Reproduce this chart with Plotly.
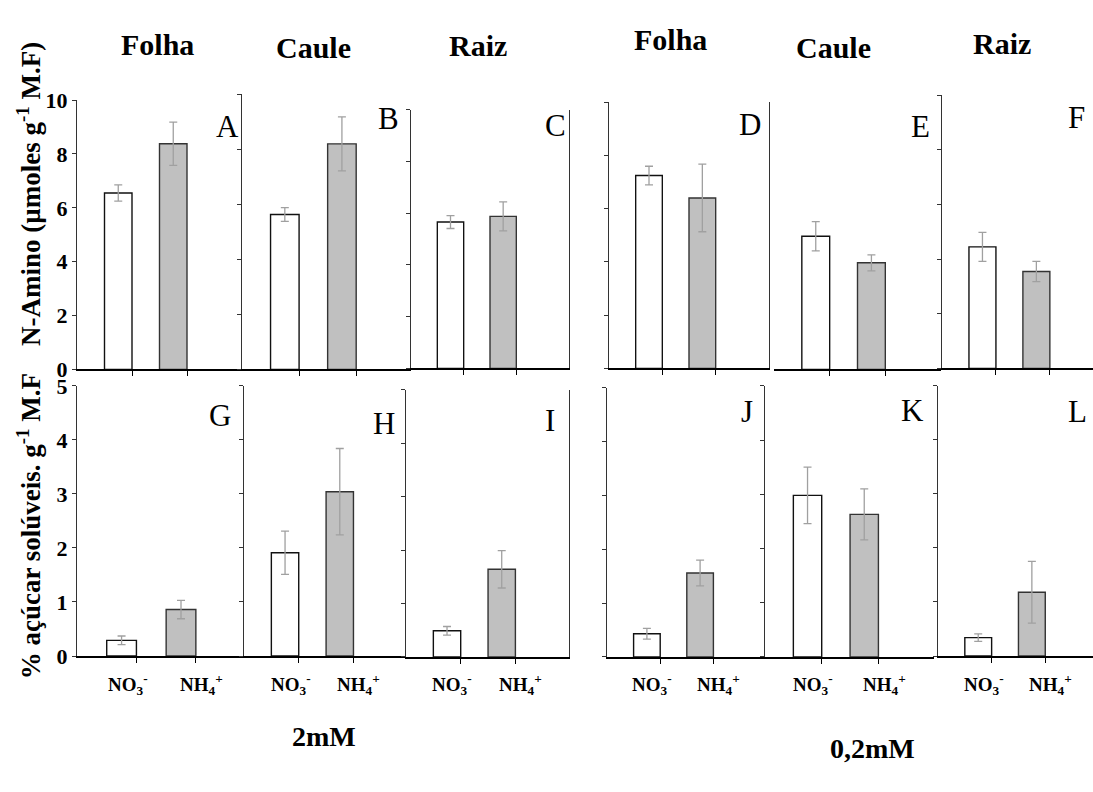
import plotly.graph_objects as go

W, H = 1093, 792

# ---------------- data ----------------
panel_ids = ["A", "B", "C", "D", "E", "F", "G", "H", "I", "J", "K", "L"]
categories = ["NO<sub>3</sub><sup>-</sup>", "NH<sub>4</sub><sup>+</sup>"]
organs = ["Folha", "Caule", "Raiz", "Folha", "Caule", "Raiz"]
concentrations = ["2mM", "0,2mM"]

# N-Amino (µmoles g-1 M.F) : panels A-F
amino_no3 = [6.55, 5.63, 5.66, 7.24, 5.00, 4.45]
amino_no3_err = [0.30, 0.25, 0.25, 0.35, 0.55, 0.53]
amino_nh4 = [8.38, 8.20, 5.88, 6.40, 4.00, 3.55]
amino_nh4_err = [0.80, 0.98, 0.56, 1.27, 0.30, 0.37]

# % açúcar solúveis g-1 M.F : panels G-L
sugar_no3 = [0.29, 1.91, 0.49, 0.43, 2.98, 0.34]
sugar_no3_err = [0.08, 0.40, 0.08, 0.10, 0.52, 0.07]
sugar_nh4 = [0.86, 3.04, 1.64, 1.56, 2.63, 1.18]
sugar_nh4_err = [0.17, 0.80, 0.35, 0.24, 0.47, 0.57]

amino_ticks = [0, 2, 4, 6, 8, 10]
sugar_ticks = [0, 1, 2, 3, 4, 5]

# ---------------- layout geometry (pixels) ----------------
# x0, x1, x-range max, y of range top, y of zero
geom = {
    "A": (77, 242, 3.00, 91, 369),
    "B": (242, 411, 2.96, 85, 369),
    "C": (411, 569, 3.00, 101, 368),
    "D": (609, 769, 3.00, 93, 368),
    "E": (774, 941, 3.00, 94, 369),
    "F": (942, 1093, 2.80, 86, 368),
    "G": (77, 244, 2.81, 386, 665),
    "H": (244, 406, 2.96, 386, 665),
    "I": (406, 569, 2.98, 390, 666),
    "J": (607, 765, 2.97, 388, 666),
    "K": (765, 934, 2.98, 386, 666),
    "L": (938, 1093, 2.89, 386, 665),
}
mirror_right = {"C", "D", "I"}
no_left_line = {"E"}
letter_pos = {
    "A": (227, 118), "B": (388, 110), "C": (555, 117), "D": (750, 116),
    "E": (920, 118), "F": (1076, 109), "G": (220, 417), "H": (384, 425),
    "I": (550, 422), "J": (747, 413), "K": (912, 412), "L": (1077, 413),
}
title_pos = [(157, 34), (313, 37), (478, 35), (670, 28), (833, 37), (1002, 33)]
conc_pos = [(324, 748), (872, 761)]


def fx(p):
    return p / W


def fy(p):
    return 1 - p / H


SERIF = "Liberation Serif"
fig = go.Figure()
bar_x = [0.75, 1.75]

for i, pid in enumerate(panel_ids):
    n = i + 1
    xa = "x" if n == 1 else f"x{n}"
    ya = "y" if n == 1 else f"y{n}"
    xkey = "xaxis" if n == 1 else f"xaxis{n}"
    ykey = "yaxis" if n == 1 else f"yaxis{n}"
    top = i < 6
    k = i % 6
    if top:
        vals = [amino_no3[k], amino_nh4[k]]
        errs = [amino_no3_err[k], amino_nh4_err[k]]
        ymax, ticks = 10, amino_ticks
    else:
        vals = [sugar_no3[k], sugar_nh4[k]]
        errs = [sugar_no3_err[k], sugar_nh4_err[k]]
        ymax, ticks = 5, sugar_ticks

    fills = ["white", "#c0c0c0"]
    outlines = ["#111111", "#333333"]
    for j in range(2):
        fig.add_trace(go.Bar(
            x=[bar_x[j]], y=[vals[j]], width=0.5,
            marker=dict(color=fills[j], line=dict(color=outlines[j], width=1.4)),
            error_y=dict(type="data", array=[errs[j]], color="#a0a0a0",
                         thickness=1.3, width=4),
            xaxis=xa, yaxis=ya, showlegend=False, hoverinfo="skip",
        ))

    x0, x1, xmax, yt, yb = geom[pid]
    show_labels = pid in ("A", "G")
    fig.layout[xkey] = dict(
        domain=[fx(x0), fx(x1)], anchor=ya, range=[0, xmax],
        showline=True, linecolor="#000000", linewidth=1.6,
        showgrid=False, zeroline=False,
        tickvals=[1, 2], showticklabels=False, ticks="outside",
        ticklen=5, tickcolor="#000000", tickwidth=1,
        fixedrange=True,
    )
    fig.layout[ykey] = dict(
        domain=[fy(yb), fy(yt)], anchor=xa, range=[0, ymax],
        showline=pid not in no_left_line, linecolor="#333333", linewidth=1.2,
        mirror=pid in mirror_right,
        showgrid=False, zeroline=False,
        tickvals=ticks,
        ticktext=["<b>" + str(t) + "</b>" for t in ticks],
        showticklabels=show_labels,
        ticks="outside" if pid not in no_left_line else "",
        ticklen=4, tickcolor="#333333", tickwidth=1,
        tickfont=dict(family=SERIF, size=22, color="#000000"),
        fixedrange=True,
    )

    # panel letter
    lx, ly = letter_pos[pid]
    fig.add_annotation(x=fx(lx), y=fy(ly), xref="paper", yref="paper",
                       text=pid, showarrow=False,
                       font=dict(family=SERIF, size=31, color="#000000"),
                       xanchor="center", yanchor="middle")

    # category labels under bottom row
    if not top:
        for j, cx in enumerate([0.85, 2.1]):
            fig.add_annotation(x=cx, y=fy(694), xref=xa, yref="paper",
                               text="<b>" + categories[j] + "</b>", showarrow=False,
                               font=dict(family=SERIF, size=19, color="#000000"),
                               xanchor="center", yanchor="middle")

# organ titles
for (tx, ty), name in zip(title_pos, organs):
    fig.add_annotation(x=fx(tx), y=fy(ty), xref="paper", yref="paper",
                       text="<b>" + name + "</b>", showarrow=False,
                       font=dict(family=SERIF, size=30, color="#000000"),
                       xanchor="center", yanchor="middle")

# concentration labels
for (tx, ty), name in zip(conc_pos, concentrations):
    fig.add_annotation(x=fx(tx), y=fy(ty), xref="paper", yref="paper",
                       text="<b>" + name + "</b>", showarrow=False,
                       font=dict(family=SERIF, size=28, color="#000000"),
                       xanchor="center", yanchor="middle")

# y-axis titles
fig.add_annotation(x=fx(29), y=fy(188), xref="paper", yref="paper",
                   text="<b>N-Amino (µmoles g<sup>-1</sup> M.F)</b>", showarrow=False,
                   textangle=-90,
                   font=dict(family=SERIF, size=27, color="#000000"),
                   xanchor="center", yanchor="middle")
fig.add_annotation(x=fx(29), y=fy(531), xref="paper", yref="paper",
                   text="<b>% açúcar solúveis. g<sup>-1</sup> M.F</b>", showarrow=False,
                   textangle=-90,
                   font=dict(family=SERIF, size=27, color="#000000"),
                   xanchor="center", yanchor="middle")

fig.update_layout(
    width=W, height=H,
    margin=dict(l=0, r=0, t=0, b=0),
    paper_bgcolor="white", plot_bgcolor="rgba(0,0,0,0)",
    barmode="overlay", showlegend=False,
)

fig.write_html("out.html", config={"displayModeBar": False})
